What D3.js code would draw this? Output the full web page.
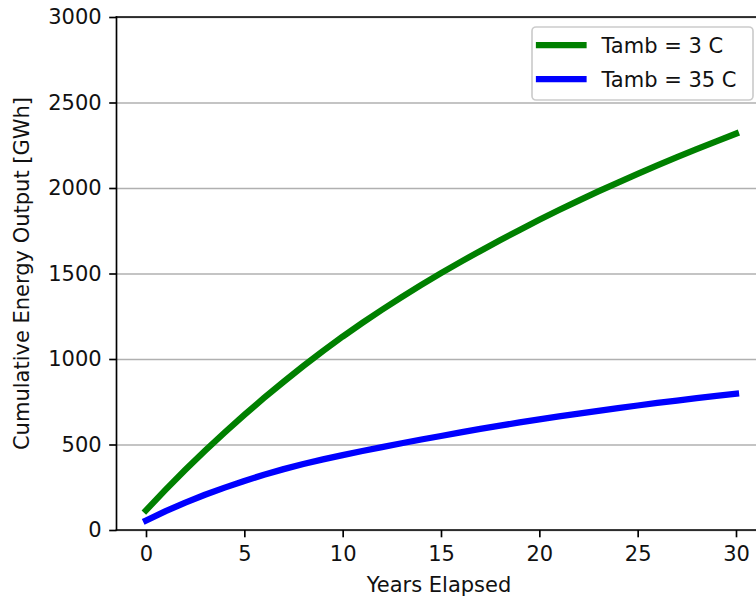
<!DOCTYPE html>
<html>
<head>
<meta charset="utf-8">
<script src="https://cdn.jsdelivr.net/npm/d3@7"></script>
<style>
  body { margin: 0; background: #fff; }
  svg { display: block; }
  text { font-family: "DejaVu Sans", sans-serif; }
</style>
</head>
<body>
<svg id="chart" width="756" height="601"></svg>
<script>
// Cumulative energy output per year of operation, for two ambient temperatures
const years = [0, 1, 2, 3, 4, 5, 6, 7, 8, 9, 10, 11, 12, 13, 14, 15,
               16, 17, 18, 19, 20, 21, 22, 23, 24, 25, 26, 27, 28, 29, 30];
const energyCold = [115, 236, 352, 463, 570, 673, 772, 867, 959, 1047, 1131,
                    1211, 1288, 1362, 1433, 1502, 1568, 1632, 1694, 1755, 1814,
                    1871, 1926, 1980, 2032, 2083, 2132, 2180, 2227, 2273, 2318];
const energyHot = [55, 110, 160, 206, 248, 287, 323, 356, 386, 413, 438,
                   462, 485, 507, 529, 550, 571, 591, 610, 629, 647,
                   664, 681, 697, 713, 728, 743, 757, 771, 784, 797];
const seriesNames = ["Tamb = 3 C", "Tamb = 35 C"];
const seriesColors = ["#008000", "#0000ff"];
const xTicks = [0, 5, 10, 15, 20, 25, 30];
const yTicks = [0, 500, 1000, 1500, 2000, 2500, 3000];
const xDomain = [-1.5, 31.5];
const yDomain = [0, 3000];

const svg = d3.select("#chart");
const FS = 21;
const plot = { left: 116.5, right: 765.5, top: 17, bottom: 530 };

const x = d3.scaleLinear().domain(xDomain).range([plot.left, plot.right]);
const y = d3.scaleLinear().domain(yDomain).range([plot.bottom, plot.top]);

// horizontal grid
const grid = svg.append("g")
  .attr("transform", `translate(${plot.left},0)`)
  .call(d3.axisLeft(y).tickValues(yTicks).tickSize(-(plot.right - plot.left)).tickFormat(""));
grid.select(".domain").remove();
grid.selectAll("line").attr("stroke", "#b0b0b0").attr("stroke-width", 1.67);

// data lines
const line = d3.line().x((d, i) => x(years[i])).y(d => y(d));
[energyCold, energyHot].forEach((vals, k) => {
  svg.append("path")
    .datum(vals)
    .attr("d", line)
    .attr("fill", "none")
    .attr("stroke", seriesColors[k])
    .attr("stroke-width", 6.25)
    .attr("stroke-linecap", "square")
    .attr("stroke-linejoin", "round");
});

// spines
const spine = (x1, y1, x2, y2) => svg.append("line")
  .attr("x1", x1).attr("y1", y1).attr("x2", x2).attr("y2", y2)
  .attr("stroke", "#000").attr("stroke-width", 1.67).attr("stroke-linecap", "square");
spine(plot.left, plot.top, plot.left, plot.bottom);
spine(plot.left, plot.top, plot.right, plot.top);
spine(plot.left, plot.bottom, plot.right, plot.bottom);
spine(plot.right, plot.top, plot.right, plot.bottom);

// axes
const xAxis = svg.append("g")
  .attr("transform", `translate(0,${plot.bottom})`)
  .call(d3.axisBottom(x).tickValues(xTicks).tickSize(7.3).tickPadding(8.5).tickFormat(d3.format("d")));
xAxis.select(".domain").remove();
xAxis.selectAll("line").attr("stroke", "#000").attr("stroke-width", 1.67);
xAxis.selectAll("text").attr("font-size", FS).attr("fill", "#111")
  .attr("font-family", "DejaVu Sans, sans-serif");

const yAxis = svg.append("g")
  .attr("transform", `translate(${plot.left},0)`)
  .call(d3.axisLeft(y).tickValues(yTicks).tickSize(7.3).tickPadding(7.5).tickFormat(d3.format("d")));
yAxis.select(".domain").remove();
yAxis.selectAll("line").attr("stroke", "#000").attr("stroke-width", 1.67);
yAxis.selectAll("text").attr("font-size", FS).attr("fill", "#111")
  .attr("font-family", "DejaVu Sans, sans-serif");

// axis titles
svg.append("text")
  .attr("x", (plot.left + plot.right) / 2 - 2)
  .attr("y", 591.5)
  .attr("text-anchor", "middle")
  .attr("font-size", FS)
  .attr("fill", "#111")
  .text("Years Elapsed");

svg.append("text")
  .attr("transform", `translate(29,${(plot.top + plot.bottom) / 2}) rotate(-90)`)
  .attr("text-anchor", "middle")
  .attr("font-size", FS)
  .attr("fill", "#111")
  .text("Cumulative Energy Output [GWh]");

// legend
const lg = svg.append("g");
lg.append("rect")
  .attr("x", 532).attr("y", 27)
  .attr("width", 221).attr("height", 73)
  .attr("rx", 4).attr("ry", 4)
  .attr("fill", "#fff").attr("fill-opacity", 0.8)
  .attr("stroke", "#cccccc").attr("stroke-width", 1.67);
seriesNames.forEach((name, k) => {
  const cy = 45 + k * 34;
  lg.append("line")
    .attr("x1", 539).attr("x2", 583.5)
    .attr("y1", cy).attr("y2", cy)
    .attr("stroke", seriesColors[k])
    .attr("stroke-width", 6.25)
    .attr("stroke-linecap", "square");
  lg.append("text")
    .attr("x", 601.5).attr("y", cy + 8)
    .attr("font-size", FS)
    .attr("fill", "#111")
    .text(name);
});
</script>
</body>
</html>
